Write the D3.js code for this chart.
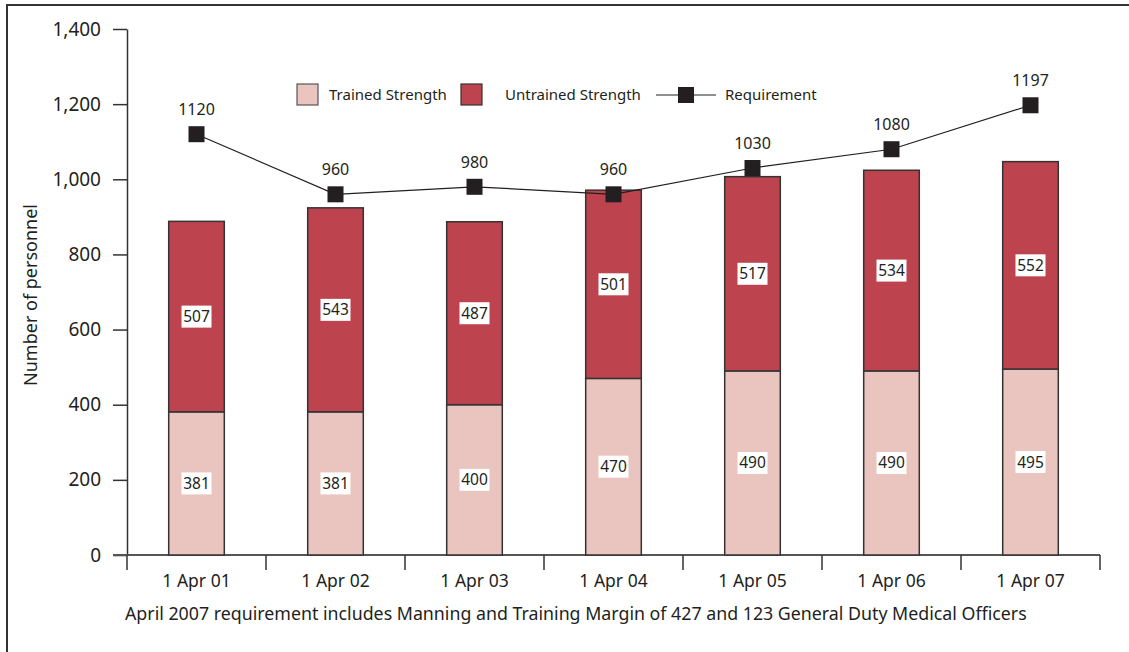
<!DOCTYPE html>
<html>
<head>
<meta charset="utf-8">
<script src="https://cdn.jsdelivr.net/npm/d3@7"></script>
<style>
  body { margin: 0; background: #fff; }
  text { font-family: "Noto Sans", "Open Sans", sans-serif; fill: #231f20; }
</style>
</head>
<body>
<div id="chart"></div>
<script>
// data
var years = ["1 Apr 01", "1 Apr 02", "1 Apr 03", "1 Apr 04", "1 Apr 05", "1 Apr 06", "1 Apr 07"];
var trained = [381, 381, 400, 470, 490, 490, 495];
var untrained = [507, 543, 487, 501, 517, 534, 552];
var requirement = [1120, 960, 980, 960, 1030, 1080, 1197];
var yTicks = [0, 200, 400, 600, 800, 1000, 1200, 1400];

var width = 1129,
	height = 652;
var svg = d3.select("#chart")
	.append("svg")
	.attr("width", width)
	.attr("height", height);

// frame (only top and left edges visible)
svg.append("path")
	.attr("d", "M7,652 V5 H1129")
	.attr("fill", "none")
	.attr("stroke", "#333")
	.attr("stroke-width", 2);

var x = d3.scaleBand()
	.domain(years)
	.range([127, 1100])
	.paddingInner(0.6)
	.paddingOuter(0.3);
var xTick = d3.scalePoint().domain(d3.range(years.length + 1)).range([127, 1100]);
var y = d3.scaleLinear().domain([0, 1400]).range([555, 29]);

// y axis
var yAxis = svg.append("g")
	.attr("transform", "translate(127,0)")
	.call(d3.axisLeft(y).tickValues(yTicks).tickSize(14).tickPadding(12)
		.tickFormat(d3.format(",")).tickSizeOuter(0));
yAxis.select(".domain").attr("stroke", "#333").attr("stroke-width", 1.5);
yAxis.selectAll(".tick line").attr("stroke", "#333").attr("stroke-width", 1.5);
yAxis.selectAll(".tick text").style("font-size", "19px").attr("fill", "#231f20");

// x axis line and ticks
svg.append("line")
	.attr("x1", 113).attr("x2", 1100)
	.attr("y1", 555).attr("y2", 555)
	.attr("stroke", "#555").attr("stroke-width", 2);
svg.selectAll(".xtick")
	.data(xTick.domain())
	.enter()
	.append("line")
	.attr("class", "xtick")
	.attr("x1", function(d){ return xTick(d); })
	.attr("x2", function(d){ return xTick(d); })
	.attr("y1", 555).attr("y2", 570)
	.attr("stroke", "#333").attr("stroke-width", 1.5);
svg.selectAll(".xlabel")
	.data(years)
	.enter()
	.append("text")
	.attr("class", "xlabel")
	.attr("x", function(d){ return x(d) + x.bandwidth() / 2; })
	.attr("y", 587)
	.attr("text-anchor", "middle")
	.style("font-size", "17.5px")
	.text(function(d){ return d; });

// y label
svg.append("text")
	.attr("transform", "translate(37,295) rotate(-90)")
	.attr("text-anchor", "middle")
	.style("font-size", "18px")
	.text("Number of personnel");

// footnote
svg.append("text")
	.attr("x", 125)
	.attr("y", 620)
	.style("font-size", "17.8px")
	.text("April 2007 requirement includes Manning and Training Margin of 427 and 123 General Duty Medical Officers");

// stacked bars
var stack = years.map(function(d, i){
	return { year: d, t: trained[i], u: untrained[i] };
});
var bars = svg.append("g").selectAll("g")
	.data(stack)
	.enter()
	.append("g");
bars.append("rect")
	.attr("x", function(d){ return x(d.year); })
	.attr("width", x.bandwidth())
	.attr("y", function(d){ return y(d.t); })
	.attr("height", function(d){ return y(0) - y(d.t); })
	.attr("fill", "#eac4bf")
	.attr("stroke", "#333")
	.attr("stroke-width", 1.5);
bars.append("rect")
	.attr("x", function(d){ return x(d.year); })
	.attr("width", x.bandwidth())
	.attr("y", function(d){ return y(d.t + d.u); })
	.attr("height", function(d){ return y(d.t) - y(d.t + d.u); })
	.attr("fill", "#bd434f")
	.attr("stroke", "#333")
	.attr("stroke-width", 1.5);

function valueBox(sel, getV, getMid) {
	sel.append("rect")
		.attr("x", function(d){ return x(d.year) + x.bandwidth() / 2 - 15; })
		.attr("y", function(d){ return y(getMid(d)) - 11; })
		.attr("width", 30)
		.attr("height", 22)
		.attr("fill", "#fff");
	sel.append("text")
		.attr("x", function(d){ return x(d.year) + x.bandwidth() / 2; })
		.attr("y", function(d){ return y(getMid(d)) + 5.5; })
		.attr("text-anchor", "middle")
		.style("font-size", "15.5px")
		.text(getV);
}
valueBox(bars, function(d){ return d.t; }, function(d){ return d.t / 2; });
valueBox(bars, function(d){ return d.u; }, function(d){ return d.t + d.u / 2; });

// requirement line
var line = d3.line()
	.x(function(d, i){ return x(years[i]) + x.bandwidth() / 2; })
	.y(function(d){ return y(d); });
svg.append("path")
	.datum(requirement)
	.attr("d", line)
	.attr("fill", "none")
	.attr("stroke", "#231f20")
	.attr("stroke-width", 1.2);
svg.selectAll(".req")
	.data(requirement)
	.enter()
	.append("rect")
	.attr("class", "req")
	.attr("x", function(d, i){ return x(years[i]) + x.bandwidth() / 2 - 8; })
	.attr("y", function(d){ return y(d) - 8; })
	.attr("width", 16).attr("height", 16)
	.attr("fill", "#231f20");
svg.selectAll(".reqlabel")
	.data(requirement)
	.enter()
	.append("text")
	.attr("class", "reqlabel")
	.attr("x", function(d, i){ return x(years[i]) + x.bandwidth() / 2; })
	.attr("y", function(d){ return y(d) - 19; })
	.attr("text-anchor", "middle")
	.style("font-size", "16px")
	.text(function(d){ return d; });

// legend
var legend = svg.append("g").attr("transform", "translate(0,95)");
legend.append("rect").attr("x", 297).attr("y", -11).attr("width", 21).attr("height", 21)
	.attr("fill", "#eac4bf").attr("stroke", "#555").attr("stroke-width", 1.2);
legend.append("text").attr("x", 329).attr("y", 5).style("font-size", "15px").text("Trained Strength");
legend.append("rect").attr("x", 461).attr("y", -11).attr("width", 21).attr("height", 21)
	.attr("fill", "#bd434f").attr("stroke", "#333").attr("stroke-width", 1.2);
legend.append("text").attr("x", 505).attr("y", 5).style("font-size", "15px").text("Untrained Strength");
legend.append("line").attr("x1", 656).attr("x2", 716).attr("y1", 0).attr("y2", 0)
	.attr("stroke", "#231f20").attr("stroke-width", 1.2);
legend.append("rect").attr("x", 678).attr("y", -8).attr("width", 16).attr("height", 16)
	.attr("fill", "#231f20");
legend.append("text").attr("x", 725).attr("y", 5).style("font-size", "15px").text("Requirement");
</script>
</body>
</html>
